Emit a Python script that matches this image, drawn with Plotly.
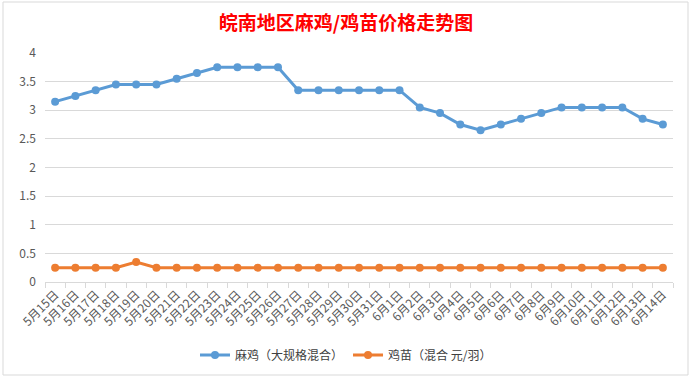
import plotly.graph_objects as go

categories = [f"5月{d}日" for d in range(15, 32)] + [f"6月{d}日" for d in range(1, 15)]
maji = [3.15, 3.25, 3.35, 3.45, 3.45, 3.45, 3.55, 3.65, 3.75, 3.75, 3.75, 3.75,
        3.35, 3.35, 3.35, 3.35, 3.35, 3.35, 3.05, 2.95, 2.75, 2.65, 2.75, 2.85,
        2.95, 3.05, 3.05, 3.05, 3.05, 2.85, 2.75]
jimiao = [0.25, 0.25, 0.25, 0.25, 0.35, 0.25, 0.25, 0.25, 0.25, 0.25, 0.25, 0.25,
          0.25, 0.25, 0.25, 0.25, 0.25, 0.25, 0.25, 0.25, 0.25, 0.25, 0.25, 0.25,
          0.25, 0.25, 0.25, 0.25, 0.25, 0.25, 0.25]
series_names = ["麻鸡（大规格混合）", "鸡苗（混合 元/羽）"]

FONT = "Noto Sans CJK SC, Microsoft YaHei, sans-serif"

fig = go.Figure()
fig.add_trace(go.Scatter(x=categories, y=maji, name=series_names[0], mode="lines+markers",
                         line=dict(color="#5B9BD5", width=3),
                         marker=dict(color="#5B9BD5", size=8)))
fig.add_trace(go.Scatter(x=categories, y=jimiao, name=series_names[1], mode="lines+markers",
                         line=dict(color="#ED7D31", width=3),
                         marker=dict(color="#ED7D31", size=8)))

L, R, T, B = 45, 19, 53, 97
W, H = 692, 379
pw, ph = W - L - R, H - T - B

def px(x):
    return (x - L) / pw

def py(y):
    return (H - B - y) / ph

fig.update_layout(
    width=W, height=H,
    margin=dict(l=L, r=R, t=T, b=B, autoexpand=False),
    paper_bgcolor="white", plot_bgcolor="white",
    font=dict(family=FONT, color="#595959", size=12),
    title=dict(text="<b>皖南地区麻鸡/鸡苗价格走势图</b>", x=0.5, xref="container", xanchor="center",
               y=1 - 23 / H, yanchor="middle",
               font=dict(family=FONT, size=19, color="#FF0000")),
    showlegend=True,
    legend=dict(orientation="h", x=px(346), xanchor="center", y=py(355), yanchor="middle",
                font=dict(size=12, color="#404040"), bgcolor="rgba(0,0,0,0)"),
    xaxis=dict(type="category", tickangle=-45, tickfont=dict(size=12, color="#595959"),
               showgrid=False, showline=True, linecolor="#D9D9D9", linewidth=1,
               ticks="outside", tickson="boundaries", ticklen=5, tickcolor="#D9D9D9",
               range=[-0.5, len(categories) - 0.5], fixedrange=True, automargin=False),
    yaxis=dict(range=[0, 4], dtick=0.5, showgrid=True, gridcolor="#D9D9D9", gridwidth=1,
               zeroline=False, showline=False, tickfont=dict(size=12, color="#595959"),
               ticks="", ticklabelstandoff=8, automargin=False),
    shapes=[dict(type="rect", xref="paper", yref="paper",
                 x0=px(3), x1=px(688), y0=py(375), y1=py(2),
                 line=dict(color="#D9D9D9", width=1), fillcolor="rgba(0,0,0,0)", layer="below")],
)

fig.write_html("out.html", config={"displayModeBar": False},
               post_script="document.body.style.margin='0px';")
